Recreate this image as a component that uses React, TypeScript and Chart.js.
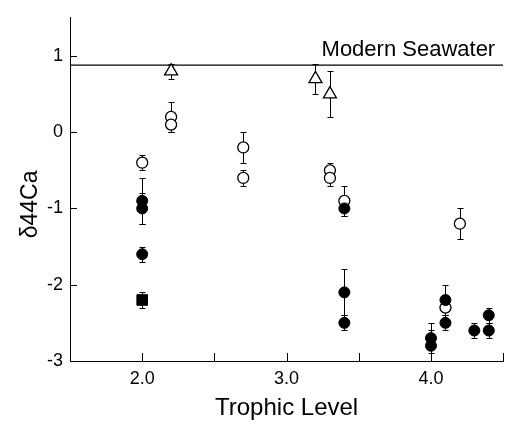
import React, { useEffect, useRef } from "react";
import { Chart, registerables } from "chart.js";

Chart.register(...registerables);

// ---- data ----
const filledX = [2.0, 2.0, 2.0, 3.4, 3.4, 3.4, 4.0, 4.0, 4.1, 4.1, 4.3, 4.4, 4.4];
const filledY = [-0.9, -1.0, -1.6, -1.0, -2.1, -2.5, -2.7, -2.8, -2.2, -2.5, -2.6, -2.4, -2.6];
const filledErr = [0.3, 0.2, 0.1, 0.1, 0.3, 0.1, 0.2, 0.2, 0.2, 0.1, 0.1, 0.1, 0.1];

const openX = [2.0, 2.2, 2.2, 2.7, 2.7, 3.3, 3.3, 3.4, 4.1, 4.2];
const openY = [-0.4, 0.2, 0.1, -0.2, -0.6, -0.5, -0.6, -0.9, -2.3, -1.2];
const openErr = [0.1, 0.2, 0.1, 0.2, 0.1, 0.1, 0.1, 0.2, 0.1, 0.2];

const triX = [2.2, 3.2, 3.3];
const triY = [0.8, 0.7, 0.5];
const triErr = [0.1, 0.2, 0.3];

const squareX = [2.0];
const squareY = [-2.2];
const squareErr = [0.1];

const seawaterX = [1.5, 4.5];
const seawaterValue = 0.88;
const seawaterLabel = "Modern Seawater";

const xTickMarks = [2.0, 2.5, 3.0, 3.5, 4.0, 4.5];
const xTickLabels = [2.0, 3.0, 4.0];
const yTickMarks = [-2, -1, 0, 1];
const yTickLabels = [-3, -2, -1, 0, 1];

const xTitle = "Trophic Level";
const yTitle = "δ44Ca";

const FONT = "'Liberation Sans', Arial, sans-serif";

const pts = (xs: number[], ys: number[]) => xs.map((x, i) => ({ x, y: ys[i] }));

const errorSets = [
  { xs: filledX, ys: filledY, es: filledErr },
  { xs: openX, ys: openY, es: openErr },
  { xs: triX, ys: triY, es: triErr },
  { xs: squareX, ys: squareY, es: squareErr },
];

const customPlugin = {
  id: "custom",
  beforeDatasetsDraw(chart: any) {
    const { ctx, scales } = chart;
    const xs = scales.x;
    const ys = scales.y;
    ctx.save();
    ctx.strokeStyle = "#000";
    ctx.lineWidth = 1;
    const cap = 3;
    errorSets.forEach((s) => {
      s.xs.forEach((xv, i) => {
        const px = Math.round(xs.getPixelForValue(xv)) + 0.5;
        const top = Math.round(ys.getPixelForValue(s.ys[i] + s.es[i])) + 0.5;
        const bot = Math.round(ys.getPixelForValue(s.ys[i] - s.es[i])) + 0.5;
        ctx.beginPath();
        ctx.moveTo(px, top);
        ctx.lineTo(px, bot);
        ctx.moveTo(px - cap, top);
        ctx.lineTo(px + cap, top);
        ctx.moveTo(px - cap, bot);
        ctx.lineTo(px + cap, bot);
        ctx.stroke();
      });
    });
    ctx.restore();
  },
  afterDraw(chart: any) {
    const { ctx, scales, chartArea } = chart;
    const xs = scales.x;
    const ys = scales.y;
    ctx.save();
    ctx.strokeStyle = "#000";
    ctx.lineWidth = 1;
    // inward tick marks
    xTickMarks.forEach((v) => {
      const px = Math.round(xs.getPixelForValue(v)) + 0.5;
      ctx.beginPath();
      ctx.moveTo(px, chartArea.bottom);
      ctx.lineTo(px, chartArea.bottom - 8);
      ctx.stroke();
    });
    yTickMarks.forEach((v) => {
      const py = Math.round(ys.getPixelForValue(v)) + 0.5;
      ctx.beginPath();
      ctx.moveTo(chartArea.left, py);
      ctx.lineTo(chartArea.left + 7, py);
      ctx.stroke();
    });
    // seawater label
    ctx.fillStyle = "#000";
    ctx.font = `22px ${FONT}`;
    ctx.textAlign = "right";
    ctx.textBaseline = "alphabetic";
    ctx.fillText(seawaterLabel, chartArea.right - 8, ys.getPixelForValue(seawaterValue) - 9);
    // y title
    ctx.save();
    ctx.translate(chartArea.left - 39, (chartArea.top + chartArea.bottom) / 2 + 15);
    ctx.rotate(-Math.PI / 2);
    ctx.textAlign = "center";
    ctx.textBaseline = "middle";
    ctx.font = `23px ${FONT}`;
    ctx.fillText(yTitle, 0, 0);
    ctx.restore();
    ctx.restore();
  },
};

export default function App() {
  const ref = useRef<HTMLCanvasElement>(null);
  useEffect(() => {
    const chart = new Chart(ref.current as HTMLCanvasElement, {
      type: "scatter",
      data: {
        datasets: [
          {
            data: pts(filledX, filledY),
            pointStyle: "circle",
            pointRadius: 5.5,
            pointBackgroundColor: "#000",
            pointBorderColor: "#000",
            pointBorderWidth: 1,
          },
          {
            data: pts(openX, openY),
            pointStyle: "circle",
            pointRadius: 5.5,
            pointBackgroundColor: "#fff",
            pointBorderColor: "#000",
            pointBorderWidth: 1.3,
          },
          {
            data: pts(triX, triY),
            pointStyle: "triangle",
            pointRadius: 7.5,
            pointBackgroundColor: "#fff",
            pointBorderColor: "#000",
            pointBorderWidth: 1.3,
          },
          {
            data: pts(squareX, squareY),
            pointStyle: "rect",
            pointRadius: 7.5,
            pointBackgroundColor: "#000",
            pointBorderColor: "#000",
            pointBorderWidth: 1,
          },
          {
            type: "line",
            data: seawaterX.map((x) => ({ x, y: seawaterValue })),
            borderColor: "#000",
            borderWidth: 1.2,
            pointRadius: 0,
            fill: false,
          } as any,
        ],
      },
      options: {
        animation: false,
        responsive: false,
        layout: { padding: { top: 14, right: 3, left: 0, bottom: 0 } },
        plugins: { legend: { display: false }, tooltip: { enabled: false } },
        scales: {
          x: {
            type: "linear",
            min: 1.5,
            max: 4.5,
            grid: { display: false, drawTicks: false },
            border: { display: true, color: "#000", width: 1 },
            afterFit: (s: any) => {
              s.height = 62;
            },
            afterBuildTicks: (s: any) => {
              s.ticks = xTickLabels.map((v) => ({ value: v }));
            },
            ticks: {
              color: "#000",
              padding: 7,
              font: { family: FONT, size: 18 },
              callback: (v: any) => Number(v).toFixed(1),
              maxRotation: 0,
            },
            title: {
              display: true,
              text: xTitle,
              color: "#000",
              font: { family: FONT, size: 24 },
              padding: { top: 0, bottom: 0 },
            },
          },
          y: {
            type: "linear",
            min: -3,
            max: 1.5,
            grid: { display: false, drawTicks: false },
            border: { display: true, color: "#000", width: 1 },
            afterFit: (s: any) => {
              s.width = 70;
            },
            afterBuildTicks: (s: any) => {
              s.ticks = yTickLabels.map((v) => ({ value: v }));
            },
            ticks: {
              color: "#000",
              padding: 7,
              font: { family: FONT, size: 18 },
              callback: (v: any) => String(v),
            },
          },
        },
      },
      plugins: [customPlugin],
    } as any);
    return () => chart.destroy();
  }, []);
  return (
    <div style={{ position: "fixed", left: 0, top: 0, width: 512, height: 423, background: "#fff" }}>
      <canvas ref={ref} width={512} height={423} />
    </div>
  );
}
